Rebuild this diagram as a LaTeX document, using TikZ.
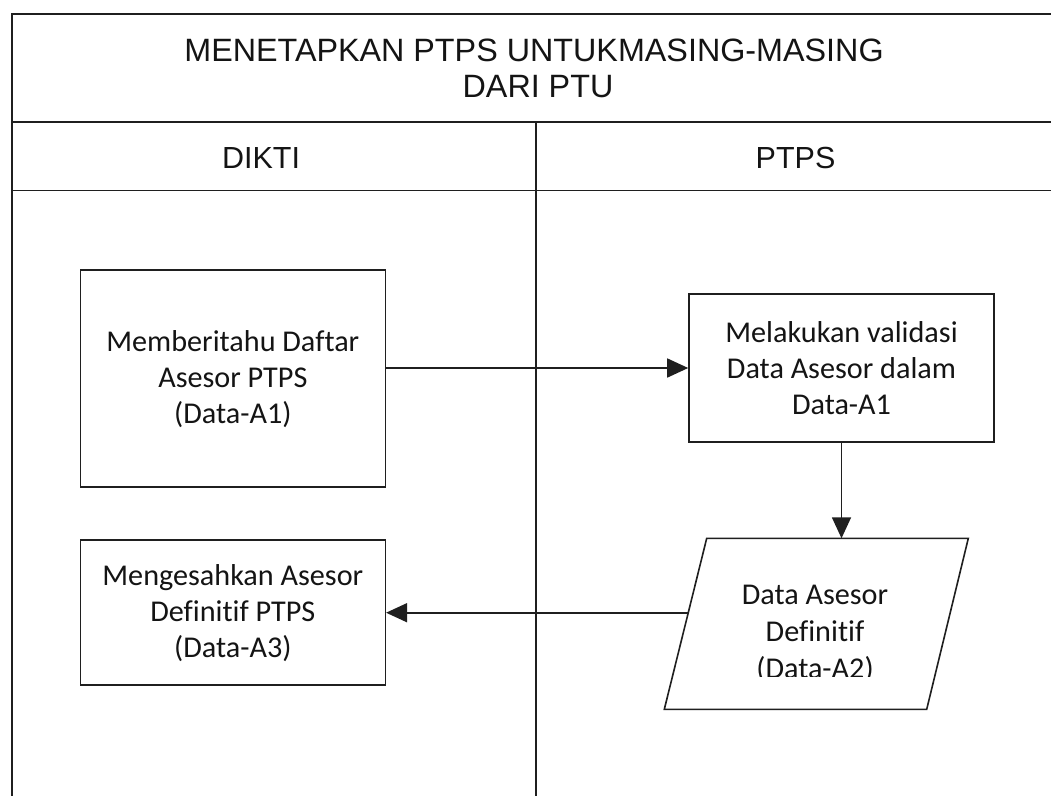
\documentclass[tikz,border=0pt]{standalone}
\usepackage{fontspec}
\setmainfont{Carlito}[Ligatures=NoCommon]
\newfontfamily\titlefont{Liberation Sans}
\usetikzlibrary{arrows.meta}
\begin{document}
\begin{tikzpicture}[x=1pt,y=-1pt,
  rule/.style={line width=1.6pt,draw=black!88},
  procbox/.style={rule,minimum width=305pt,inner sep=0pt,align=center,font=\fontsize{30.2}{36}\selectfont,text=black!92},
  boxtext/.style={align=center,font=\fontsize{30.2}{37}\selectfont,text=black!92,inner sep=0pt},
  conn/.style={rule,-{Triangle[length=21pt,width=19pt]}},
  headtext/.style={font=\titlefont\fontsize{32.3}{36}\selectfont,anchor=base,inner sep=0pt,text=black!92},
  lanetext/.style={font=\titlefont\fontsize{30.5}{36}\selectfont,anchor=base,inner sep=0pt,text=black!92}]
\path[use as bounding box] (0,0) rectangle (1051,796);
\fill[white] (0,0) rectangle (1051,796);
% frame of the swimlane
\draw[rule] (1051,14) -- (12,14) -- (12,796);
\draw[rule] (12,122) -- (1051,122);
\draw[rule] (12,190.5) -- (1051,190.5);
\draw[rule] (536,122) -- (536,796);
% title and lane headers
\node[headtext] (t1) at (534,61) {MENETAPKAN PTPS UNTUKMASING-MASING};
\node[headtext] (t2) at (538,97) {DARI PTU};
\node[lanetext] (h1) at (261,168.5) {DIKTI};
\node[lanetext] (h2) at (795.5,168.5) {PTPS};
% process boxes
\node[procbox,minimum height=217pt] (b1) at (232.8,378.7) {Memberitahu Daftar\\Asesor PTPS\\(Data-A1)};
\node[procbox,minimum height=145pt] (b3) at (232.8,612.7) {Mengesahkan Asesor\\Definitif PTPS\\(Data-A3)};
\node[procbox,minimum height=148pt] (b2) at (841.5,368) {Melakukan validasi\\Data Asesor dalam\\Data-A1};
% data parallelogram
\coordinate (pTL) at (706.7,538.3);
\coordinate (pTR) at (968.3,538.3);
\coordinate (pBR) at (926.7,709.3);
\coordinate (pBL) at (664.3,709.3);
\coordinate (pIn) at (688.3,612.7);
\draw[rule] (pTL) -- (pTR) -- (pBR) -- (pBL) -- cycle;
\begin{scope}
\clip (650,540) rectangle (980,676);
\node[boxtext] (d2) at (815,634) {Data Asesor\\Definitif\\(Data-A2)};
\end{scope}
% connectors
\draw[conn] (b1.east |- b2.west) -- (b2.west);
\draw[conn] (b2.south) -- (b2.south |- pTL);
\draw[conn] (pIn) -- (b3.east);
\end{tikzpicture}
\end{document}
